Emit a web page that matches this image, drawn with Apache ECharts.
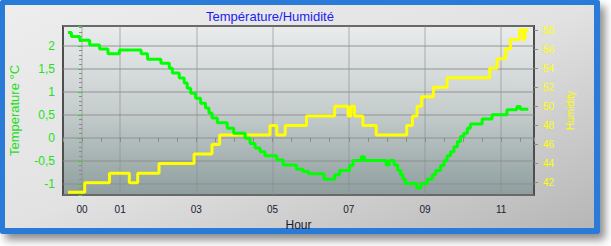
<!DOCTYPE html>
<html><head><meta charset="utf-8">
<script src="https://cdn.jsdelivr.net/npm/echarts@6/dist/echarts.min.js"></script>
<style>html,body{margin:0;padding:0;background:#ffffff;}#c{width:611px;height:246px;}</style>
</head><body><div id="c"></div>
<script>
const titleText = 'Température/Humidité';
const xAxisName = 'Hour';
const leftAxisName = 'Temperature °C';
const rightAxisName = 'Humidity';
const xTickHours = [0, 1, 3, 5, 7, 9, 11];
const xTickLabels = ['00', '01', '03', '05', '07', '09', '11'];

const tempHours = [-0.37, -0.28, -0.06, 0.20, 0.46, 0.68, 0.98, 1.55, 1.72, 2.07, 2.29, 2.37, 2.55, 2.68, 2.76, 2.85, 2.98, 3.11, 3.24, 3.33, 3.41, 3.55, 3.81, 3.98, 4.28, 4.41, 4.54, 4.67, 4.80, 5.11, 5.28, 5.63, 5.80, 5.94, 6.35, 6.63, 6.76, 7.02, 7.11, 7.33, 7.41, 7.98, 8.06, 8.19, 8.28, 8.36, 8.42, 8.48, 8.78, 8.89, 9.06, 9.19, 9.28, 9.41, 9.50, 9.58, 9.67, 9.76, 9.85, 9.93, 10.02, 10.11, 10.19, 10.50, 10.76, 11.15, 11.41, 11.50, 11.71];
const tempValues = [2.29, 2.20, 2.12, 2.02, 1.93, 1.83, 1.91, 1.83, 1.71, 1.62, 1.51, 1.41, 1.30, 1.19, 1.08, 0.97, 0.86, 0.75, 0.65, 0.54, 0.43, 0.33, 0.21, 0.10, -0.01, -0.12, -0.22, -0.30, -0.39, -0.48, -0.59, -0.68, -0.73, -0.78, -0.90, -0.80, -0.71, -0.60, -0.49, -0.41, -0.49, -0.59, -0.49, -0.59, -0.70, -0.80, -0.90, -0.99, -1.09, -0.99, -0.90, -0.80, -0.71, -0.60, -0.49, -0.39, -0.30, -0.19, -0.08, 0.03, 0.10, 0.21, 0.30, 0.41, 0.50, 0.61, 0.68, 0.62, 0.62];

const humHours = [-0.37, 0.07, 0.72, 1.24, 1.46, 2.02, 2.94, 3.41, 3.61, 4.93, 5.11, 5.33, 5.89, 6.63, 6.98, 7.06, 7.15, 7.37, 7.72, 8.52, 8.67, 8.79, 8.91, 9.22, 9.58, 10.70, 10.89, 11.11, 11.24, 11.48, 11.58, 11.62, 11.71];
const humValues = [41, 42, 43, 42, 43, 44, 45, 46, 47, 48, 47, 48, 49, 50, 49, 50, 49, 48, 47, 48, 49, 50, 51, 52, 53, 54, 55, 56, 57, 58, 57, 58, 58];

const FONT = '"Liberation Sans", Arial, sans-serif';
const GREEN = '#00ff00';
const YELLOW = '#ffff00';
const GRIDCOL = 'rgba(140,140,140,0.45)';
const VGRIDCOL = 'rgba(140,140,140,0.32)';

const chart = echarts.init(document.getElementById('c'), null, {renderer: 'svg'});
const zipPts = (xs, ys) => xs.map((x, i) => [x, ys[i]]);
const option = {
  animation: false,
  backgroundColor: '#ffffff',
  graphic: [
    {type: 'rect', z: -20, shape: {x: 0, y: 0, width: 600, height: 234, r: 2},
     style: {fill: '#2a7ad8', shadowBlur: 8, shadowOffsetX: 5, shadowOffsetY: 6, shadowColor: 'rgba(0,0,0,0.45)'}},
    {type: 'rect', z: -19, shape: {x: 5, y: 5, width: 589, height: 223},
     style: {fill: new echarts.graphic.LinearGradient(0, 0, 1, 1, [
       {offset: 0, color: '#ededed'}, {offset: 0.5, color: '#e2e2e2'}, {offset: 1, color: '#b6b6b6'}])}},
    {type: 'text', z: 10, x: 270, y: 10,
     style: {text: titleText, fill: '#1c1cf0', font: '13px ' + FONT, textAlign: 'center', textVerticalAlign: 'top'}}
  ],
  grid: {
    left: 60, right: 77, top: 26, bottom: 51, show: true,
    backgroundColor: new echarts.graphic.LinearGradient(0, 0, 0, 1, [
      {offset: 0, color: '#eaecec'}, {offset: 0.5, color: '#c6cdcd'}, {offset: 1, color: '#8e9e9e'}]),
    borderColor: '#4e4e4e', borderWidth: 2
  },
  xAxis: {
    type: 'value', min: -0.5, max: 11.86, interval: 0.5,
    name: xAxisName, nameLocation: 'middle', nameGap: 21,
    nameTextStyle: {color: '#1a1a2e', fontSize: 12, fontFamily: FONT},
    axisLine: {show: false},
    axisTick: {show: true, length: 4, lineStyle: {color: '#8a8a8a'}},
    splitLine: {show: false},
    axisLabel: {
      color: '#202030', fontSize: 10, fontFamily: FONT, margin: 9, showMinLabel: true, showMaxLabel: true,
      formatter: v => {
        const i = xTickHours.findIndex(h => Math.abs(h - v) < 1e-6);
        return i >= 0 ? xTickLabels[i] : '';
      }
    }
  },
  yAxis: [
    {
      type: 'value', min: -1.24, max: 2.43, splitNumber: 7, position: 'left',
      name: leftAxisName, nameLocation: 'middle', nameGap: 42,
      nameTextStyle: {color: '#22dd22', fontSize: 13, fontFamily: FONT},
      axisLine: {show: false},
      axisTick: {show: true, length: 4, lineStyle: {color: '#22dd22'}},
      minorTick: {show: true, splitNumber: 5, length: 3, lineStyle: {color: '#8a8a8a'}},
      axisLabel: {color: '#22e022', fontSize: 12, fontFamily: FONT, margin: 8,
        showMinLabel: false, showMaxLabel: false,
        formatter: v => String(v).replace('.', ',')},
      splitLine: {show: true, lineStyle: {color: GRIDCOL, width: 2}}
    },
    {
      type: 'value', min: 40.71, max: 58.42, splitNumber: 8, position: 'right',
      name: rightAxisName, nameLocation: 'middle', nameGap: 28,
      nameTextStyle: {color: YELLOW, fontSize: 10, fontFamily: FONT},
      axisLine: {show: false},
      axisTick: {show: true, length: 4, lineStyle: {color: '#8a8a8a'}},
      axisLabel: {color: YELLOW, fontSize: 10, fontFamily: FONT, margin: 9,
        showMinLabel: false, showMaxLabel: false},
      splitLine: {show: false}
    }
  ],
  series: [
    {
      type: 'line', name: 'grid', data: [], z: 1, silent: true,
      markLine: {
        silent: true, symbol: ['none', 'none'], label: {show: false},
        lineStyle: {color: VGRIDCOL, width: 2, type: 'solid'},
        emphasis: {disabled: true},
        data: xTickHours.map(h => ({xAxis: h}))
      }
    },
    {
      type: 'line', name: rightAxisName, yAxisIndex: 1, step: 'end', z: 10,
      showSymbol: false, symbol: 'none',
      lineStyle: {color: YELLOW, width: 3},
      data: zipPts(humHours, humValues)
    },
    {
      type: 'line', name: leftAxisName, yAxisIndex: 0, step: 'end', z: 11,
      showSymbol: false, symbol: 'none',
      lineStyle: {color: GREEN, width: 3},
      data: zipPts(tempHours, tempValues)
    }
  ]
};
chart.setOption(option);
</script>
</body></html>
